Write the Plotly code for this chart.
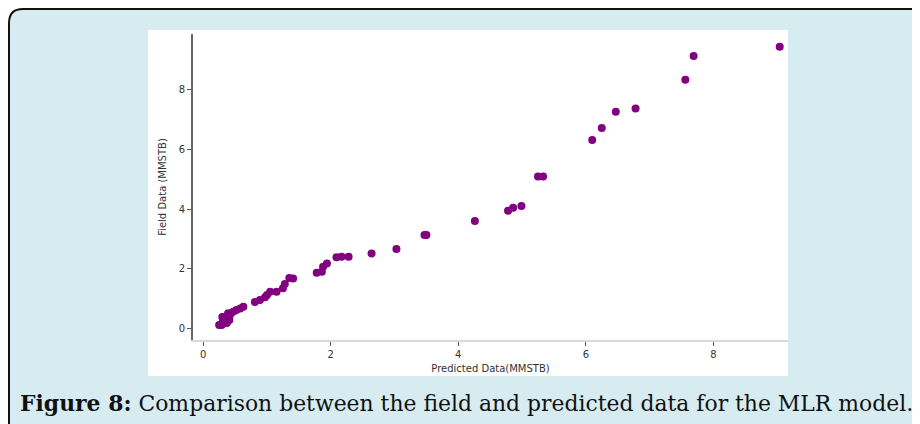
import plotly.graph_objects as go

# Data
predicted = [9.04, 7.69, 7.56, 6.78, 6.47, 6.25, 6.10, 5.33, 5.25, 4.99, 4.86, 4.78,
             4.26, 3.50, 3.47, 3.03, 2.64, 2.28, 2.17, 2.09, 1.94, 1.88, 1.86, 1.78,
             1.41, 1.35, 1.28, 1.25, 1.15, 1.05, 1.00, 0.97, 0.89, 0.81, 0.63, 0.58,
             0.52, 0.47, 0.42, 0.39, 0.34, 0.31, 0.29, 0.37, 0.25, 0.30, 0.41]
field = [9.45, 9.14, 8.34, 7.38, 7.27, 6.72, 6.32, 5.09, 5.09, 4.10, 4.04, 3.94,
         3.60, 3.13, 3.13, 2.66, 2.51, 2.40, 2.40, 2.38, 2.17, 2.06, 1.89, 1.86,
         1.67, 1.68, 1.48, 1.34, 1.22, 1.22, 1.11, 1.04, 0.94, 0.88, 0.72, 0.66,
         0.61, 0.55, 0.44, 0.50, 0.38, 0.21, 0.10, 0.17, 0.10, 0.37, 0.27]
x_ticks = [0, 2, 4, 6, 8]
y_ticks = [0, 2, 4, 6, 8]

OFF = 8  # page body margin
W, H = 920 - OFF, 424 - OFF
L, T = 193 - OFF, 34 - OFF
R = W - (788 - OFF)
B = H - (340 - OFF)
PW, PH = W - L - R, H - T - B


def px(x):
    return (x - OFF - L) / PW


def py(y):
    return 1 - (y - OFF - T) / PH


fig = go.Figure()
fig.add_trace(go.Scatter(
    x=predicted, y=field, mode="markers",
    marker=dict(color="#800080", size=8, line=dict(width=0)),
    showlegend=False,
))

# Outer rounded box (light blue with black border)
r = 14
x0, y0, x1, y1 = 9, 9, 940, 445
path = (f"M {px(x0)},{py(y0 + r)} Q {px(x0)},{py(y0)} {px(x0 + r)},{py(y0)} "
        f"L {px(x1)},{py(y0)} L {px(x1)},{py(y1)} L {px(x0)},{py(y1)} Z")
shapes = [
    dict(type="path", xref="paper", yref="paper", path=path,
         fillcolor="#d7ecf1", line=dict(color="#111111", width=2), layer="below"),
    dict(type="rect", xref="paper", yref="paper",
         x0=px(148), x1=px(788), y0=py(30), y1=py(376),
         fillcolor="white", line=dict(width=0), layer="below"),
]

annotations = [
    dict(text="<b>Figure 8:</b> Comparison between the field and predicted data for the MLR model.",
         xref="paper", yref="paper", x=px(18), y=py(403), xanchor="left", yanchor="middle",
         showarrow=False, font=dict(family="DejaVu Serif", size=21.9, color="#111111")),
]

fig.update_layout(
    width=W, height=H,
    margin=dict(l=L, r=R, t=T, b=B, pad=0),
    paper_bgcolor="white",
    plot_bgcolor="rgba(0,0,0,0)",
    shapes=shapes,
    annotations=annotations,
    font=dict(family="DejaVu Sans", size=10, color="#333333"),
    xaxis=dict(
        range=[-0.16, 9.17], tickvals=x_ticks, showgrid=False, zeroline=False,
        showline=True, linecolor="#d9d9d9", linewidth=2,
        ticks="outside", ticklen=4, tickcolor="#555555", tickwidth=1,
        title=dict(text="Predicted Data(MMSTB)", standoff=6, font=dict(size=10)),
        tickfont=dict(size=10),
    ),
    yaxis=dict(
        range=[-0.4, 9.88], tickvals=y_ticks, showgrid=False, zeroline=False,
        showline=True, linecolor="#666666", linewidth=2,
        ticks="outside", ticklen=4, tickcolor="#555555", tickwidth=1,
        title=dict(text="Field Data (MMSTB)", standoff=10, font=dict(size=10)),
        tickfont=dict(size=10),
    ),
)

fig.write_html("out.html")
